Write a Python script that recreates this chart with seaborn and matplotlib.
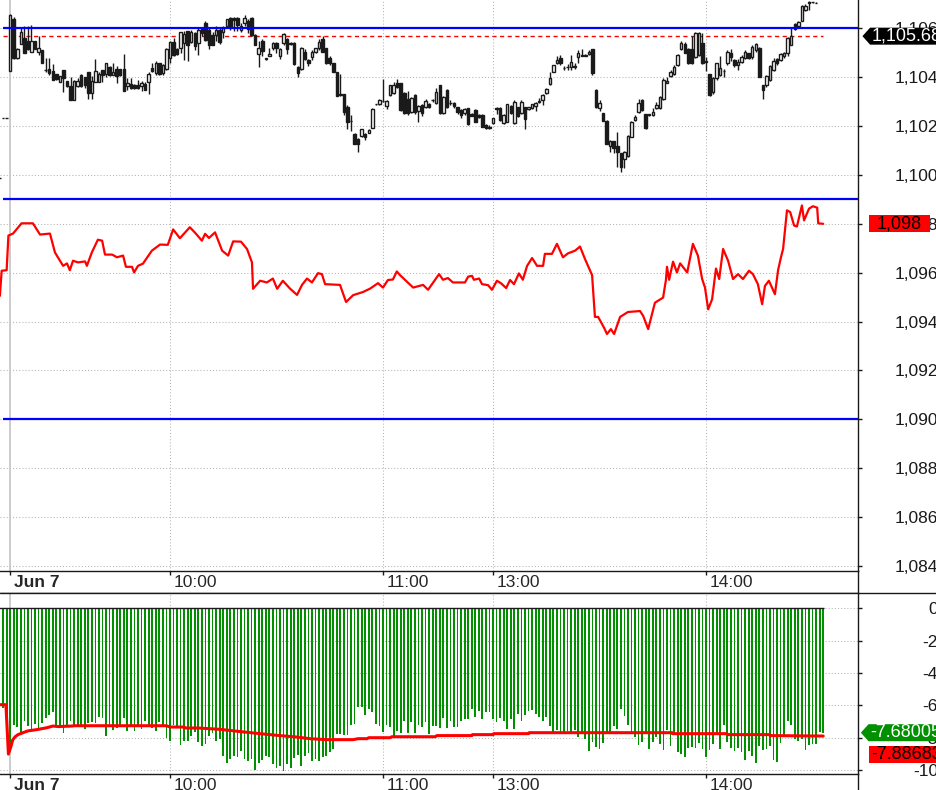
import numpy as np
import matplotlib
matplotlib.use("Agg")
import matplotlib.pyplot as plt
from matplotlib.lines import Line2D
from matplotlib.path import Path
import seaborn as sns

# --- DATA ---
# bar index 0 = 09:15 on Jun 7, one bar per minute (lunch break removed)
TIME_TICKS = [0, 45, 105, 136, 196]
TIME_LABELS = ["Jun 7", "10:00", "11:00", "13:00", "14:00"]

FIRST_BAR = -3  # the chart starts with three bars of the previous session

c_open = [
    1099.86, 1102.32, 1102.32, 1104.27, 1106.40, 1104.78, 1105.35, 1105.60, 1105.50, 1105.05,
    1105.48, 1105.05, 1105.10, 1104.30, 1104.34, 1104.25, 1104.12, 1103.82, 1104.30, 1103.84,
    1103.66, 1103.05, 1103.62, 1104.08, 1104.00, 1104.20, 1103.35, 1103.82, 1103.82, 1104.30,
    1104.13, 1104.40, 1104.10, 1104.34, 1104.34, 1104.34, 1103.65, 1103.72, 1103.68, 1103.70,
    1103.65, 1103.72, 1103.82, 1104.39, 1104.16, 1104.57, 1104.16, 1104.33, 1104.80, 1105.43,
    1105.15, 1105.18, 1105.40, 1105.90, 1105.45, 1105.80, 1105.39, 1105.97, 1106.23, 1105.93,
    1105.73, 1105.73, 1105.93, 1105.86, 1106.10, 1106.41, 1106.44, 1106.44, 1105.93, 1106.20,
    1106.30, 1106.41, 1105.73, 1104.95, 1105.50, 1104.77, 1104.88, 1105.18, 1105.41, 1104.87,
    1105.41, 1105.56, 1105.39, 1105.39, 1104.43, 1104.33, 1105.02, 1104.70, 1104.84, 1105.05,
    1105.18, 1105.55, 1105.18, 1104.77, 1104.57, 1104.20, 1103.30, 1103.31, 1102.77, 1102.22,
    1101.68, 1101.47, 1101.59, 1101.68, 1101.73, 1101.91, 1102.90, 1102.89, 1103.04, 1102.82,
    1103.27, 1103.34, 1103.75, 1103.75, 1103.37, 1103.09, 1102.59, 1103.27, 1102.62, 1102.86,
    1102.79, 1102.90, 1103.07, 1102.93, 1103.68, 1102.52, 1103.48, 1102.96, 1102.96, 1102.77,
    1102.66, 1102.52, 1102.73, 1102.49, 1102.66, 1102.45, 1102.45, 1102.05, 1101.98, 1102.11,
    1102.73, 1102.73, 1102.14, 1102.18, 1102.82, 1102.14, 1102.77, 1102.55, 1102.77, 1102.70,
    1102.73, 1102.82, 1103.04, 1103.07, 1103.37, 1103.72, 1104.23, 1104.57, 1104.77, 1104.38,
    1104.40, 1104.43, 1104.45, 1104.84, 1104.91, 1104.91, 1104.96, 1105.14, 1103.48, 1102.73,
    1102.52, 1102.21, 1101.18, 1101.39, 1101.20, 1100.88, 1100.64, 1100.77, 1101.57, 1102.25,
    1102.59, 1103.07, 1102.49, 1102.48, 1102.45, 1102.73, 1102.73, 1103.09, 1103.78, 1104.05,
    1104.13, 1104.50, 1105.14, 1105.35, 1105.14, 1105.14, 1104.84, 1104.91, 1105.41, 1104.66,
    1104.13, 1103.41, 1103.95, 1104.09, 1104.27, 1104.57, 1104.98, 1104.70, 1104.50, 1104.64,
    1104.77, 1104.98, 1104.81, 1105.11, 1105.21, 1103.68, 1103.68, 1103.89, 1104.29, 1104.73,
    1104.70, 1104.87, 1105.00, 1105.32, 1106.18, 1106.11, 1106.31, 1106.75, 1107.06, 1107.06,
    1107.05,
]
c_high = [
    1099.86, 1102.32, 1102.32, 1106.60, 1106.45, 1105.20, 1106.00, 1106.10, 1106.10, 1106.15,
    1105.50, 1105.70, 1105.10, 1104.80, 1104.80, 1104.55, 1104.15, 1104.05, 1104.30, 1103.84,
    1104.00, 1103.90, 1103.95, 1104.15, 1104.00, 1104.22, 1104.03, 1104.73, 1104.20, 1104.30,
    1104.60, 1104.45, 1104.60, 1104.45, 1104.34, 1104.95, 1103.97, 1103.97, 1103.72, 1103.90,
    1103.85, 1103.80, 1104.20, 1104.60, 1104.65, 1104.60, 1104.55, 1105.20, 1105.50, 1105.60,
    1105.20, 1105.86, 1105.90, 1105.90, 1105.95, 1105.85, 1106.00, 1106.00, 1106.30, 1106.05,
    1105.85, 1106.10, 1106.05, 1106.10, 1106.40, 1106.45, 1106.45, 1106.45, 1106.20, 1106.55,
    1106.40, 1106.45, 1105.75, 1105.50, 1105.55, 1104.80, 1105.20, 1105.45, 1105.45, 1105.20,
    1105.80, 1105.60, 1105.45, 1105.45, 1104.45, 1105.25, 1105.15, 1104.75, 1105.10, 1105.20,
    1105.55, 1105.69, 1105.20, 1104.85, 1104.60, 1104.23, 1104.13, 1103.31, 1102.85, 1102.45,
    1101.70, 1101.50, 1101.90, 1101.70, 1101.90, 1102.75, 1102.92, 1103.10, 1103.93, 1103.05,
    1103.70, 1103.80, 1103.91, 1103.78, 1103.40, 1103.45, 1103.20, 1103.30, 1102.85, 1102.90,
    1103.10, 1102.95, 1103.10, 1103.55, 1103.70, 1103.25, 1103.50, 1103.05, 1103.00, 1102.80,
    1102.70, 1102.72, 1102.75, 1102.55, 1102.70, 1102.50, 1102.48, 1102.10, 1102.05, 1102.35,
    1102.77, 1102.77, 1102.50, 1102.90, 1102.85, 1103.05, 1102.80, 1103.05, 1102.80, 1102.80,
    1102.92, 1103.00, 1103.15, 1103.30, 1103.55, 1104.20, 1104.50, 1104.85, 1104.90, 1104.45,
    1104.55, 1104.90, 1104.60, 1105.10, 1105.15, 1104.95, 1105.10, 1105.15, 1103.50, 1103.05,
    1102.55, 1102.25, 1101.45, 1101.40, 1101.77, 1100.90, 1101.00, 1101.65, 1102.20, 1102.45,
    1103.10, 1103.10, 1102.50, 1102.50, 1102.75, 1103.00, 1103.25, 1103.95, 1104.00, 1104.30,
    1104.50, 1104.95, 1105.50, 1105.45, 1105.20, 1105.70, 1105.85, 1105.85, 1105.80, 1104.84,
    1104.15, 1104.00, 1104.60, 1104.85, 1104.35, 1105.10, 1105.15, 1104.75, 1104.75, 1104.90,
    1105.10, 1105.00, 1105.30, 1105.40, 1105.25, 1103.70, 1104.10, 1104.50, 1104.80, 1104.80,
    1105.00, 1105.05, 1105.65, 1106.00, 1106.20, 1106.30, 1106.95, 1107.00, 1107.10, 1107.08,
    1107.07,
]
c_low = [
    1099.86, 1102.32, 1102.32, 1104.27, 1104.75, 1104.75, 1105.35, 1104.98, 1105.10, 1105.05,
    1105.14, 1104.90, 1104.57, 1104.22, 1104.10, 1103.90, 1103.90, 1103.80, 1103.38, 1103.60,
    1103.05, 1103.05, 1103.60, 1103.60, 1103.55, 1103.10, 1103.10, 1103.82, 1103.80, 1103.82,
    1104.00, 1104.05, 1104.10, 1103.75, 1104.05, 1103.45, 1103.48, 1103.50, 1103.50, 1103.50,
    1103.45, 1103.48, 1103.32, 1104.20, 1104.10, 1104.10, 1104.10, 1104.30, 1104.60, 1104.85,
    1104.90, 1105.00, 1104.70, 1104.65, 1105.40, 1105.10, 1104.92, 1105.70, 1105.50, 1105.15,
    1105.30, 1105.50, 1105.35, 1105.60, 1106.05, 1105.95, 1105.90, 1105.90, 1105.85, 1106.10,
    1105.80, 1105.70, 1105.30, 1104.40, 1104.85, 1104.70, 1104.85, 1105.10, 1105.00, 1104.75,
    1105.30, 1104.95, 1105.30, 1104.50, 1104.00, 1104.30, 1104.70, 1104.45, 1104.70, 1105.00,
    1105.10, 1105.05, 1104.55, 1104.50, 1104.20, 1103.24, 1103.25, 1102.45, 1101.90, 1101.81,
    1101.27, 1100.95, 1101.55, 1101.45, 1101.70, 1101.91, 1102.88, 1102.85, 1103.00, 1102.70,
    1103.25, 1103.30, 1103.55, 1102.60, 1102.50, 1102.45, 1102.55, 1102.50, 1102.18, 1102.40,
    1102.75, 1102.75, 1103.00, 1102.90, 1102.50, 1102.50, 1102.75, 1102.85, 1102.75, 1102.50,
    1102.35, 1102.45, 1102.05, 1102.40, 1102.15, 1102.35, 1101.95, 1101.88, 1101.88, 1102.10,
    1102.50, 1102.20, 1102.10, 1102.15, 1102.50, 1102.10, 1102.38, 1102.50, 1101.87, 1102.65,
    1102.70, 1102.60, 1102.95, 1102.85, 1103.30, 1103.70, 1104.20, 1104.55, 1104.50, 1104.30,
    1104.30, 1104.30, 1104.35, 1104.60, 1104.85, 1104.85, 1104.90, 1104.10, 1102.75, 1102.60,
    1102.20, 1101.25, 1100.95, 1100.90, 1100.34, 1100.13, 1100.30, 1100.75, 1101.55, 1102.20,
    1102.55, 1102.60, 1101.90, 1102.42, 1102.40, 1102.70, 1102.70, 1103.05, 1103.75, 1104.00,
    1104.10, 1104.45, 1105.10, 1104.98, 1104.55, 1104.55, 1104.80, 1104.85, 1104.55, 1104.27,
    1103.25, 1103.30, 1103.90, 1104.05, 1104.00, 1104.50, 1104.65, 1104.40, 1104.30, 1104.60,
    1104.75, 1104.75, 1104.75, 1105.05, 1104.00, 1103.10, 1103.60, 1103.85, 1104.25, 1104.50,
    1104.65, 1104.80, 1104.85, 1105.30, 1105.95, 1106.05, 1106.30, 1106.70, 1106.75, 1107.04,
    1107.03,
]
c_close = [
    1099.86, 1102.32, 1102.32, 1106.55, 1104.78, 1105.14, 1105.84, 1104.98, 1105.14, 1105.48,
    1105.14, 1105.18, 1104.57, 1104.28, 1104.18, 1103.90, 1103.94, 1104.05, 1103.98, 1103.63,
    1103.07, 1103.85, 1103.85, 1103.62, 1103.70, 1103.37, 1103.85, 1104.27, 1104.14, 1104.10,
    1104.60, 1104.10, 1104.23, 1104.05, 1104.10, 1103.45, 1103.78, 1103.54, 1103.54, 1103.54,
    1103.78, 1103.48, 1104.14, 1104.27, 1104.60, 1104.13, 1104.50, 1105.14, 1105.43, 1104.90,
    1104.95, 1105.86, 1105.75, 1105.30, 1105.84, 1105.28, 1105.93, 1105.80, 1105.52, 1105.32,
    1105.32, 1105.93, 1105.45, 1106.00, 1106.38, 1106.07, 1106.34, 1106.14, 1106.10, 1106.44,
    1105.96, 1105.73, 1105.32, 1105.18, 1105.09, 1104.73, 1104.95, 1105.41, 1105.18, 1105.14,
    1105.75, 1105.14, 1105.35, 1104.53, 1104.16, 1105.21, 1104.73, 1104.57, 1105.05, 1105.18,
    1105.43, 1105.05, 1104.59, 1104.57, 1104.23, 1103.24, 1103.27, 1102.59, 1102.18, 1102.20,
    1101.27, 1101.27, 1101.87, 1101.54, 1101.85, 1102.70, 1102.90, 1103.07, 1103.04, 1103.03,
    1103.68, 1103.68, 1103.59, 1102.66, 1102.55, 1102.52, 1103.14, 1102.59, 1102.82, 1102.52,
    1103.04, 1102.79, 1103.05, 1103.41, 1102.52, 1103.20, 1102.79, 1102.95, 1102.82, 1102.59,
    1102.45, 1102.68, 1102.08, 1102.43, 1102.18, 1102.38, 1101.98, 1101.91, 1101.92, 1102.32,
    1102.71, 1102.25, 1102.45, 1102.89, 1102.52, 1103.00, 1102.41, 1103.00, 1102.28, 1102.77,
    1102.89, 1102.93, 1103.00, 1103.27, 1103.50, 1103.98, 1104.49, 1104.70, 1104.57, 1104.36,
    1104.40, 1104.62, 1104.43, 1104.98, 1104.87, 1104.87, 1105.05, 1104.19, 1102.77, 1102.96,
    1102.22, 1101.27, 1101.40, 1101.09, 1100.95, 1100.34, 1100.95, 1101.59, 1102.18, 1102.38,
    1102.96, 1102.66, 1101.91, 1102.45, 1102.59, 1102.86, 1103.18, 1103.89, 1103.86, 1104.23,
    1104.43, 1104.91, 1105.41, 1105.00, 1104.59, 1104.59, 1105.82, 1105.82, 1104.59, 1104.64,
    1103.27, 1103.95, 1104.57, 1104.36, 1104.25, 1105.05, 1104.84, 1104.50, 1104.64, 1104.81,
    1105.05, 1104.77, 1105.25, 1105.35, 1104.02, 1103.48, 1104.05, 1104.46, 1104.68, 1104.57,
    1104.95, 1104.98, 1105.59, 1105.70, 1105.97, 1106.27, 1106.91, 1106.91, 1107.05, 1107.06,
    1107.05,
]

# second instrument (red line), read at its turning points: bar index / price
red_x = [
    -2.9, -2.4, -1.0, -0.5, 0.8, 3.2, 6.4, 8.4, 11.2, 12.6,
    14.9, 16.0, 16.8, 17.7, 19.1, 21.1, 21.6, 23.0, 24.7, 25.9,
    26.7, 28.7, 30.1, 31.8, 32.6, 34.3, 34.9, 36.0, 37.4, 39.9,
    42.2, 44.4, 45.9, 47.8, 50.6, 52.1, 54.0, 54.9, 56.0, 57.7,
    59.7, 61.4, 62.8, 65.0, 66.7, 68.1, 68.4, 70.4, 72.3, 74.0,
    75.2, 76.8, 78.8, 80.8, 82.2, 83.6, 85.0, 86.7, 87.8, 88.7,
    92.9, 94.6, 96.6, 99.4, 101.4, 103.6, 105.0, 106.4, 107.8, 108.9,
    109.8, 113.5, 116.3, 117.7, 120.8, 121.9, 123.3, 124.7, 128.1, 129.0,
    130.1, 130.6, 132.1, 132.9, 134.6, 135.7, 137.1, 138.3, 139.7, 140.8,
    141.9, 143.3, 144.4, 145.6, 147.0, 148.4, 150.1, 150.6, 152.6, 154.0,
    155.7, 157.1, 159.1, 160.5, 161.9, 163.9, 164.7, 165.6, 167.3, 168.1,
    169.2, 170.1, 171.8, 174.0, 177.4, 178.3, 179.7, 181.6, 183.9, 184.7,
    185.0, 185.6, 186.7, 187.8, 188.7, 190.7, 192.3, 193.7, 194.9, 195.7,
    196.6, 197.7, 198.8, 199.7, 200.8, 202.2, 203.6, 205.0, 206.4, 208.1,
    209.2, 210.6, 211.8, 212.6, 213.7, 215.4, 216.3, 217.1, 217.7, 218.8,
    219.7, 220.8, 221.6, 223.0, 223.6, 225.0, 226.1, 227.3, 227.6, 229.0,
]
red_v = [
    1095.05, 1096.08, 1096.10, 1097.52, 1097.60, 1098.02, 1098.02, 1097.56, 1097.60, 1096.83,
    1096.28, 1096.38, 1096.10, 1096.49, 1096.42, 1096.46, 1096.28, 1096.83, 1097.35, 1097.31,
    1096.74, 1096.74, 1096.63, 1096.70, 1096.24, 1096.24, 1096.01, 1096.28, 1096.37, 1096.90,
    1097.15, 1097.14, 1097.77, 1097.41, 1097.86, 1097.63, 1097.31, 1097.59, 1097.42, 1097.65,
    1096.90, 1096.70, 1097.28, 1097.27, 1096.97, 1096.42, 1095.34, 1095.67, 1095.60, 1095.76,
    1095.34, 1095.67, 1095.35, 1095.09, 1095.50, 1095.76, 1095.60, 1095.98, 1095.94, 1095.53,
    1095.50, 1094.80, 1095.08, 1095.21, 1095.35, 1095.57, 1095.39, 1095.70, 1095.72, 1096.05,
    1095.90, 1095.39, 1095.50, 1095.30, 1095.94, 1095.71, 1095.78, 1095.60, 1095.60, 1095.84,
    1095.87, 1095.71, 1095.76, 1095.53, 1095.49, 1095.30, 1095.67, 1095.56, 1095.37, 1095.70,
    1095.53, 1095.97, 1095.71, 1096.28, 1096.60, 1096.28, 1096.28, 1096.77, 1096.77, 1097.18,
    1096.63, 1096.79, 1096.90, 1097.07, 1096.56, 1095.90, 1094.19, 1094.19, 1093.74, 1093.49,
    1093.69, 1093.49, 1094.19, 1094.39, 1094.43, 1094.23, 1093.69, 1094.77, 1094.98, 1095.70,
    1096.24, 1095.71, 1096.45, 1096.01, 1096.38, 1096.01, 1097.18, 1096.70, 1095.74, 1095.39,
    1094.50, 1094.91, 1096.17, 1095.74, 1096.97, 1096.49, 1095.74, 1095.94, 1095.74, 1096.08,
    1095.94, 1095.53, 1094.71, 1095.46, 1095.67, 1095.12, 1096.11, 1096.63, 1096.97, 1098.55,
    1098.48, 1097.93, 1097.89, 1098.75, 1098.14, 1098.62, 1098.72, 1098.66, 1098.02, 1098.00,
]

LEVELS = [1106, 1099, 1090]       # blue horizontal levels
REF_LEVEL = 1105.68               # red dashed reference line
RED_LAST = 1098.0

# lower pane: histogram (green) and its signal line (red)
hist = [
    -4.84, -6.17, -7.92, -8.85, -7.20, -7.30, -7.82, -6.93, -7.24, -7.45,
    -7.14, -7.45, -7.06, -6.75, -6.58, -6.38, -7.35, -7.37, -7.67, -7.20,
    -6.93, -7.24, -7.26, -7.26, -7.43, -7.06, -7.00, -7.06, -6.69, -6.75,
    -7.86, -7.26, -7.49, -7.41, -7.26, -6.75, -7.55, -7.20, -7.55, -7.20,
    -7.43, -6.93, -7.35, -7.37, -7.55, -7.02, -7.26, -7.98, -8.17, -7.20,
    -7.39, -8.44, -8.17, -8.17, -7.88, -7.63, -8.23, -8.48, -8.37, -7.86,
    -7.67, -8.17, -8.05, -9.09, -9.53, -9.30, -9.09, -9.16, -8.79, -9.28,
    -9.40, -9.28, -9.98, -9.53, -9.36, -9.09, -9.16, -9.61, -9.84, -9.71,
    -10.02, -9.59, -9.84, -9.22, -9.03, -9.71, -9.09, -8.91, -9.42, -9.28,
    -9.40, -9.16, -9.09, -8.89, -8.68, -7.76, -7.76, -7.82, -7.82, -7.20,
    -7.14, -6.07, -6.07, -6.58, -6.19, -6.38, -7.14, -7.24, -7.63, -7.20,
    -7.30, -7.92, -7.55, -7.69, -6.95, -7.70, -7.02, -7.70, -7.20, -7.30,
    -7.02, -7.76, -7.26, -7.24, -7.39, -6.75, -7.39, -6.95, -7.30, -7.30,
    -6.93, -6.83, -6.83, -6.21, -6.69, -6.34, -6.83, -6.40, -6.40, -6.83,
    -7.02, -6.75, -6.93, -7.45, -6.83, -7.45, -6.52, -6.95, -6.58, -6.34,
    -6.28, -6.52, -6.69, -6.95, -6.69, -7.26, -7.67, -7.51, -7.67, -7.67,
    -7.55, -7.67, -7.51, -7.92, -7.67, -8.05, -8.79, -8.23, -8.54, -8.66,
    -8.29, -7.79, -7.72, -7.26, -7.43, -6.19, -6.63, -7.18, -7.72, -7.92,
    -8.42, -8.23, -7.72, -8.66, -8.23, -7.92, -8.35, -8.72, -7.49, -8.48,
    -7.72, -8.85, -8.97, -9.16, -8.60, -8.54, -8.60, -8.29, -8.66, -9.16,
    -8.72, -8.35, -7.72, -8.66, -7.18, -8.23, -8.60, -8.79, -8.60, -8.85,
    -9.34, -8.79, -9.09, -9.53, -8.48, -8.72, -8.66, -8.48, -9.34, -9.47,
    -8.29, -7.80, -6.93, -7.18, -8.05, -8.17, -8.05, -8.72, -8.42, -8.35,
    -8.35, -7.61, -7.68,
]
sig_x = [
    -3.0, -1.2, -0.5, 0.2, 0.7, 1.4, 2.2, 3.6, 5.0, 7.5,
    10.4, 12.0, 13.5, 17.4, 18.0, 44.0, 45.0, 49.0, 49.5, 53.0,
    59.0, 64.7, 70.4, 76.0, 80.8, 84.4, 89.2, 96.6, 98.0, 100.5,
    101.0, 107.0, 107.5, 119.7, 120.2, 130.0, 130.2, 136.0, 136.2, 146.0,
    146.2, 186.4, 186.6, 201.9, 202.0, 214.0, 214.2, 229.0,
]
sig_v = [
    -5.95, -5.95, -9.00, -8.54, -8.13, -7.93, -7.80, -7.68, -7.57, -7.49,
    -7.37, -7.27, -7.30, -7.27, -7.25, -7.25, -7.33, -7.33, -7.39, -7.39,
    -7.47, -7.61, -7.74, -7.86, -7.95, -8.05, -8.11, -8.11, -8.05, -8.05,
    -7.99, -7.99, -7.93, -7.93, -7.86, -7.86, -7.80, -7.80, -7.74, -7.74,
    -7.68, -7.68, -7.74, -7.74, -7.80, -7.80, -7.86, -7.887,
]
HIST_LAST = "-7.68005"
SIG_LAST = "-7.88683"

TOP_TICKS = [1084, 1086, 1088, 1090, 1092, 1094, 1096, 1098, 1100, 1102, 1104, 1106]
BOT_TICKS = [0, -2, -4, -6, -8, -10]

# --- STYLE ---
RED = "#ff0000"
BLUE = "#0000ff"
GREEN = "#009000"
GRID = "#b4b4b4"
W, H = 937, 790
XLIM = (-2.87, 238.8)
TOP_YLIM = (1083.79, 1107.16)
BOT_YLIM = (-10.25, 0.93)
FS = 12.5      # axis labels
TAG_FS = 13    # value tags on the right


def tag_box(pad_x, pad_y, head):
    # label box, optionally with an arrow head on its left side
    def box(x0, y0, width, height, mutation_size):
        px, py = pad_x * mutation_size, pad_y * mutation_size
        x0, y0 = x0 - px, y0 - py
        x1, y1 = x0 + width + 2 * px, y0 + height + 2 * py
        tip = (y1 - y0) * head
        return Path([(x0, y0), (x1, y0), (x1, y1), (x0, y1),
                     (x0 - tip, (y0 + y1) / 2), (x0, y0)], closed=True)
    return box


def right_tag(axis, text, value, fc, tc, box, dx, dy=0):
    axis.annotate(text, xy=(1, value), xycoords=("axes fraction", "data"),
                  xytext=(dx, dy), textcoords="offset points", ha="left", va="center",
                  color=tc, fontsize=TAG_FS, annotation_clip=False, zorder=10,
                  bbox=dict(boxstyle=box, fc=fc, ec=fc, lw=0))


def add_axes(x0, y0, x1, y1):
    return fig.add_axes([x0 / W, 1 - y1 / H, (x1 - x0) / W, (y1 - y0) / H])


def style_value_axis(a, ticks, labels, ylim):
    a.set_xlim(*XLIM)
    a.set_ylim(*ylim)
    for s in ("top", "left", "bottom"):
        a.spines[s].set_visible(False)
    a.spines["right"].set_color("k")
    a.spines["right"].set_linewidth(1)
    a.yaxis.tick_right()
    a.set_yticks(ticks, labels)
    a.tick_params(axis="y", direction="out", length=3.2, width=1, color="k",
                  pad=54.4, labelsize=FS, labelcolor="k")
    for lbl in a.get_yticklabels():
        lbl.set_horizontalalignment("right")
    a.tick_params(axis="x", bottom=False, labelbottom=False)
    a.set_xlabel("")
    a.set_ylabel("")
    for t in ticks:
        a.axhline(t, color=GRID, lw=0.75, ls=(0, (1, 2)), zorder=0)
    for t in TIME_TICKS:
        if t == TIME_TICKS[0]:
            a.axvline(t, color="#c4c4c4", lw=1.2, zorder=0)
        else:
            a.axvline(t, color=GRID, lw=0.75, ls=(0, (1, 2)), zorder=0)


def style_time_strip(a):
    a.set_xlim(*XLIM)
    a.set_ylim(0, 1)
    a.set_yticks([])
    a.spines["left"].set_visible(False)
    for s in ("top", "bottom", "right"):
        a.spines[s].set_color("k")
        a.spines[s].set_linewidth(1)
    a.set_xticks(TIME_TICKS)
    a.xaxis.tick_top()
    a.tick_params(axis="x", direction="in", length=3, width=1, color="k",
                  labeltop=False, labelbottom=False)
    for t, lbl in zip(TIME_TICKS, TIME_LABELS):
        a.annotate(lbl, (t, 0.5), xycoords=("data", "axes fraction"),
                   xytext=(2.5, 0), textcoords="offset points", ha="left", va="center",
                   fontsize=FS, fontweight="bold" if lbl == TIME_LABELS[0] else "normal")


sns.set_theme(style="white")
plt.rcParams["font.family"] = ["Liberation Sans", "DejaVu Sans"]
plt.rcParams["axes.unicode_minus"] = False

fig = plt.figure(figsize=(W / 100, H / 100), dpi=100)
fig.patch.set_facecolor("white")

ax = add_axes(0, 0, 858, 571)
strip1 = add_axes(0, 571, 858, 593.3)
ax2 = add_axes(0, 593.3, 858, 774.3)
strip2 = add_axes(0, 774.3, 858, 796.6)

# --- price pane ---
o, hi, lo, c = (np.array(v) for v in (c_open, c_high, c_low, c_close))
idx_c = np.arange(FIRST_BAR, FIRST_BAR + len(o))
up = c >= o
body_lo = np.minimum(o, c)
body_h = np.abs(c - o)

ax.hlines(REF_LEVEL, -2.1, idx_c[-1] + 2, colors=RED, lw=1, linestyles=(0, (3, 2.5)), zorder=2)
ax.vlines(idx_c, lo, hi, color="k", lw=1, zorder=3)
ax.bar(idx_c[up], body_h[up], bottom=body_lo[up], width=0.7,
       facecolor="white", edgecolor="k", lw=1, zorder=4)
ax.bar(idx_c[~up], body_h[~up], bottom=body_lo[~up], width=0.7,
       facecolor="k", edgecolor="k", lw=1, zorder=4)
sns.lineplot(x=red_x, y=red_v, ax=ax, color=RED, lw=1.6, estimator=None, sort=False, zorder=3)
ax.hlines(LEVELS, -2.1, XLIM[1], colors=BLUE, lw=1.6, zorder=5)

style_value_axis(ax, TOP_TICKS, [f"{t:,}" for t in TOP_TICKS], TOP_YLIM)
right_tag(ax, f"{REF_LEVEL:,.2f}", REF_LEVEL, "black", "white", tag_box(0.1, 0.0, 0.45), dx=10)
right_tag(ax, f"{RED_LAST:,.0f}", RED_LAST, RED, "black", tag_box(0.45, 0.0, 0), dx=13.7)

# --- indicator pane ---
idx_b = np.arange(FIRST_BAR, FIRST_BAR + len(hist))
ax2.bar(idx_b, hist, width=0.5, color=GREEN, lw=0, zorder=2)
ax2.hlines(0, idx_b[0] - 0.25, idx_b[-1] + 0.25, colors="k", lw=1, zorder=3)
sns.lineplot(x=sig_x, y=sig_v, ax=ax2, color=RED, lw=2.2, estimator=None, sort=False, zorder=4)

style_value_axis(ax2, BOT_TICKS, [str(t) for t in BOT_TICKS], BOT_YLIM)
right_tag(ax2, HIST_LAST, float(HIST_LAST), GREEN, "white", tag_box(0.08, 0.0, 0.45), dx=8.6)
right_tag(ax2, SIG_LAST, float(SIG_LAST), RED, "black", tag_box(0.1, 0.0, 0), dx=9.4, dy=-13)

# --- time strips ---
style_time_strip(strip1)
style_time_strip(strip2)

# full-width separator between the panes
sep_y = 1 - 593.3 / H
fig.add_artist(Line2D([0, 1], [sep_y, sep_y], color="k", lw=1))

fig.savefig("out.png", dpi=100, facecolor="white")
